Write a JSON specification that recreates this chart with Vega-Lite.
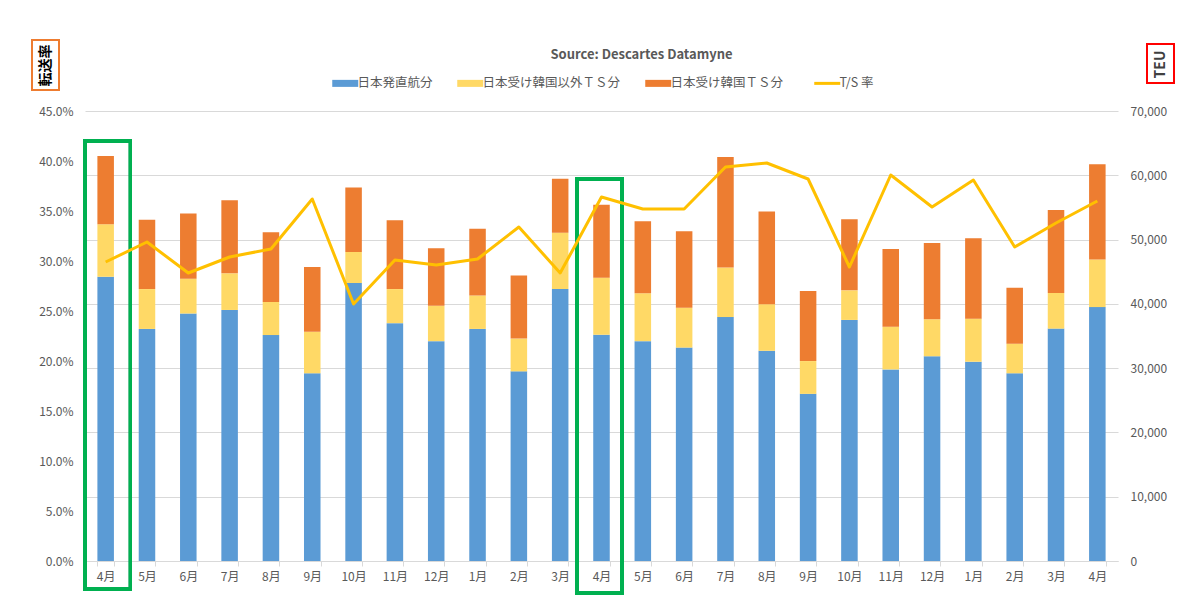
{
  "$schema": "https://vega.github.io/schema/vega-lite/v6.json",
  "width": 1033,
  "height": 450,
  "autosize": {"type": "none"},
  "padding": {"left": 85, "top": 111, "right": 82, "bottom": 39},
  "background": "white",
  "config": {
    "font": "Noto Sans CJK JP",
    "view": {"stroke": null},
    "axis": {"labelFont": "Noto Sans CJK JP", "labelFontSize": 12, "labelColor": "#595959", "titleFont": "Noto Sans CJK JP"}
  },
  "title": {
    "text": "Source: Descartes Datamyne",
    "frame": "group",
    "anchor": "middle",
    "offset": 0,
    "dy": 22,
    "dx": 40,
    "fontSize": 13,
    "fontWeight": "bold",
    "color": "#595959"
  },
  "data": {
    "values": [
      {"n": 1, "日本発直航分": 44200, "日本受け韓国以外ＴＳ分": 8200, "日本受け韓国ＴＳ分": 10600, "率": 0.299},
      {"n": 2, "日本発直航分": 36100, "日本受け韓国以外ＴＳ分": 6200, "日本受け韓国ＴＳ分": 10800, "率": 0.319},
      {"n": 3, "日本発直航分": 38500, "日本受け韓国以外ＴＳ分": 5400, "日本受け韓国ＴＳ分": 10150, "率": 0.288},
      {"n": 4, "日本発直航分": 39050, "日本受け韓国以外ＴＳ分": 5700, "日本受け韓国ＴＳ分": 11350, "率": 0.304},
      {"n": 5, "日本発直航分": 35150, "日本受け韓国以外ＴＳ分": 5150, "日本受け韓国ＴＳ分": 10850, "率": 0.312},
      {"n": 6, "日本発直航分": 29200, "日本受け韓国以外ＴＳ分": 6450, "日本受け韓国ＴＳ分": 10100, "率": 0.362},
      {"n": 7, "日本発直航分": 43250, "日本受け韓国以外ＴＳ分": 4800, "日本受け韓国ＴＳ分": 10050, "率": 0.257},
      {"n": 8, "日本発直航分": 37000, "日本受け韓国以外ＴＳ分": 5300, "日本受け韓国ＴＳ分": 10700, "率": 0.301},
      {"n": 9, "日本発直航分": 34200, "日本受け韓国以外ＴＳ分": 5500, "日本受け韓国ＴＳ分": 8950, "率": 0.296},
      {"n": 10, "日本発直航分": 36100, "日本受け韓国以外ＴＳ分": 5200, "日本受け韓国ＴＳ分": 10400, "率": 0.302},
      {"n": 11, "日本発直航分": 29500, "日本受け韓国以外ＴＳ分": 5100, "日本受け韓国ＴＳ分": 9800, "率": 0.334},
      {"n": 12, "日本発直航分": 42300, "日本受け韓国以外ＴＳ分": 8750, "日本受け韓国ＴＳ分": 8400, "率": 0.288},
      {"n": 13, "日本発直航分": 35200, "日本受け韓国以外ＴＳ分": 8850, "日本受け韓国ＴＳ分": 11350, "率": 0.364},
      {"n": 14, "日本発直航分": 34200, "日本受け韓国以外ＴＳ分": 7450, "日本受け韓国ＴＳ分": 11200, "率": 0.352},
      {"n": 15, "日本発直航分": 33200, "日本受け韓国以外ＴＳ分": 6200, "日本受け韓国ＴＳ分": 11900, "率": 0.352},
      {"n": 16, "日本発直航分": 37950, "日本受け韓国以外ＴＳ分": 7700, "日本受け韓国ＴＳ分": 17200, "率": 0.394},
      {"n": 17, "日本発直航分": 32700, "日本受け韓国以外ＴＳ分": 7250, "日本受け韓国ＴＳ分": 14400, "率": 0.398},
      {"n": 18, "日本発直航分": 26000, "日本受け韓国以外ＴＳ分": 5100, "日本受け韓国ＴＳ分": 10900, "率": 0.382},
      {"n": 19, "日本発直航分": 37500, "日本受け韓国以外ＴＳ分": 4600, "日本受け韓国ＴＳ分": 11050, "率": 0.294},
      {"n": 20, "日本発直航分": 29800, "日本受け韓国以外ＴＳ分": 6650, "日本受け韓国ＴＳ分": 12100, "率": 0.386},
      {"n": 21, "日本発直航分": 31850, "日本受け韓国以外ＴＳ分": 5750, "日本受け韓国ＴＳ分": 11850, "率": 0.354},
      {"n": 22, "日本発直航分": 31000, "日本受け韓国以外ＴＳ分": 6700, "日本受け韓国ＴＳ分": 12500, "率": 0.381},
      {"n": 23, "日本発直航分": 29200, "日本受け韓国以外ＴＳ分": 4600, "日本受け韓国ＴＳ分": 8700, "率": 0.314},
      {"n": 24, "日本発直航分": 36150, "日本受け韓国以外ＴＳ分": 5550, "日本受け韓国ＴＳ分": 12900, "率": 0.338},
      {"n": 25, "日本発直航分": 39500, "日本受け韓国以外ＴＳ分": 7400, "日本受け韓国ＴＳ分": 14800, "率": 0.360}
    ]
  },
  "encoding": {
    "x": {
      "field": "n",
      "type": "ordinal",
      "scale": {"paddingInner": 0.6, "paddingOuter": 0.3},
      "axis": {
        "title": null,
        "labelExpr": "isValid(datum.value) && datum.value >= 1 ? (((datum.value + 2) % 12) + 1) + '月' : ''",
        "labelAngle": 0,
        "tickBand": "extent",
        "domainColor": "#d9d9d9",
        "tickColor": "#d9d9d9",
        "tickSize": 5,
        "labelPadding": 5,
        "grid": false
      }
    }
  },
  "layer": [
    {
      "layer": [
        {
          "transform": [
            {"fold": ["日本発直航分", "日本受け韓国以外ＴＳ分", "日本受け韓国ＴＳ分"], "as": ["系列", "TEU"]},
            {"window": [{"op": "row_number", "as": "k"}], "groupby": ["n"]}
          ],
          "mark": {"type": "bar"},
          "encoding": {
            "y": {
              "field": "TEU",
              "type": "quantitative",
              "stack": "zero",
              "scale": {"domain": [0, 70000], "nice": false},
              "axis": {
                "orient": "right",
                "title": "TEU",
                "titleAngle": 270,
                "titleX": 42.5,
                "titleY": -47,
                "titleAlign": "center",
                "titleBaseline": "middle",
                "titleFontSize": 14,
                "titleFontWeight": "bold",
                "titleColor": "#404040",
                "format": ",d",
                "values": [0, 10000, 20000, 30000, 40000, 50000, 60000, 70000],
                "grid": true,
                "gridColor": "#d9d9d9",
                "domain": false,
                "ticks": false,
                "labelPadding": 12
              }
            },
            "order": {"field": "k", "type": "quantitative", "sort": "ascending"},
            "color": {
              "field": "系列",
              "type": "nominal",
              "scale": {
                "domain": ["日本発直航分", "日本受け韓国以外ＴＳ分", "日本受け韓国ＴＳ分", "T/S 率"],
                "range": ["#5B9BD5", "#FFD966", "#ED7D31", "#FFC000"]
              },
              "legend": {
                "orient": "none",
                "legendX": 254,
                "legendY": -34,
                "padding": 0,
                "direction": "horizontal",
                "title": null,
                "labelFont": "Noto Sans CJK JP",
                "labelFontSize": 12.5,
                "labelColor": "#595959",
                "labelOffset": 6,
                "columnPadding": 24,
                "symbolSize": 676,
                "encode": {
                  "symbols": {
                    "update": {
                      "shape": {"signal": "datum.value === 'T/S 率' ? 'M-1,0H1' : 'M-1,-0.27H1V0.27H-1Z'"},
                      "strokeWidth": {"signal": "datum.value === 'T/S 率' ? 3 : 0"},
                      "stroke": {"signal": "scale('color', datum.value)"},
                      "fill": {"signal": "datum.value === 'T/S 率' ? 'transparent' : scale('color', datum.value)"},
                      "opacity": {"value": 1},
                      "fillOpacity": {"value": 1}
                    }
                  }
                }
              }
            }
          }
        },
        {
          "mark": {"type": "bar", "fill": null, "filled": false, "stroke": "#00B050", "strokeWidth": 3, "width": {"band": 2.76}, "xOffset": 2},
          "encoding": {
            "x": {"datum": 1, "type": "ordinal"},
            "y": {"datum": 65300, "type": "quantitative"},
            "y2": {"datum": -4400}
          }
        },
        {
          "mark": {"type": "bar", "fill": null, "filled": false, "stroke": "#00B050", "strokeWidth": 3, "width": {"band": 2.76}, "xOffset": -2},
          "encoding": {
            "x": {"datum": 13, "type": "ordinal"},
            "y": {"datum": 59400, "type": "quantitative"},
            "y2": {"datum": -5000}
          }
        },
        {
          "mark": {"type": "bar", "fill": null, "filled": false, "stroke": "#ED7D31", "strokeWidth": 1.5, "width": {"band": 1.63}, "xOffset": -60},
          "encoding": {
            "x": {"datum": 1, "type": "ordinal"},
            "y": {"datum": 81000, "type": "quantitative"},
            "y2": {"datum": 73300}
          }
        },
        {
          "mark": {"type": "bar", "fill": null, "filled": false, "stroke": "#FF0000", "strokeWidth": 1.5, "width": {"band": 1.63}, "xOffset": 63},
          "encoding": {
            "x": {"datum": 25, "type": "ordinal"},
            "y": {"datum": 80400, "type": "quantitative"},
            "y2": {"datum": 74400}
          }
        }
      ]
    },
    {
      "mark": {"type": "line", "strokeWidth": 3, "strokeJoin": "round"},
      "encoding": {
        "y": {
          "field": "率",
          "type": "quantitative",
          "scale": {"domain": [0, 0.45], "nice": false},
          "axis": {
            "orient": "left",
            "title": "転送率",
            "titleAngle": 270,
            "titleX": -40,
            "titleY": -46,
            "titleAlign": "center",
            "titleBaseline": "middle",
            "titleFontSize": 14,
            "titleFontWeight": "bold",
            "titleColor": "#000000",
            "format": ".1%",
            "values": [0, 0.05, 0.1, 0.15, 0.2, 0.25, 0.3, 0.35, 0.4, 0.45],
            "grid": false,
            "domain": false,
            "ticks": false,
            "labelPadding": 12
          }
        },
        "color": {"datum": "T/S 率"}
      }
    }
  ],
  "resolve": {"scale": {"y": "independent"}}
}
